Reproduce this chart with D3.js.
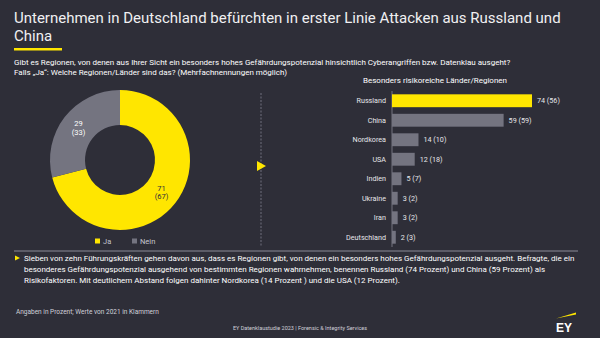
<!DOCTYPE html>
<meta charset="utf-8">
<title>EY Datenklaustudie 2023</title>
<style>
body { margin: 0; background: #2e2e38; }
svg { display: block; font-family: "Liberation Sans Narrow", "Roboto", "Liberation Sans", sans-serif; }
</style>
<svg id="chart"></svg>
<script src="https://cdn.jsdelivr.net/npm/d3@7"></script>
<script>
// donut: Gibt es Regionen mit hohem Gefährdungspotenzial?
const answers = ["Ja", "Nein"];
const answerValues = [71, 29];
const answerValues2021 = [67, 33];

// bars: besonders risikoreiche Länder/Regionen
const countries = ["Russland", "China", "Nordkorea", "USA", "Indien", "Ukraine", "Iran", "Deutschland"];
const values2023 = [74, 59, 14, 12, 5, 3, 3, 2];
const values2021 = [56, 59, 10, 18, 7, 2, 2, 3];

const width = 600, height = 338;
const yellow = "#ffe600", grey = "#747480", bg = "#2e2e38";

const svg = d3.select("#chart").attr("width", width).attr("height", height);
svg.append("rect").attr("width", width).attr("height", height).attr("fill", bg);

// title
const title = svg.append("text").attr("fill", "#f0f0f2").attr("font-size", 15);
title.append("tspan").attr("x", 14).attr("y", 23).text("Unternehmen in Deutschland befürchten in erster Linie Attacken aus Russland und");
title.append("tspan").attr("x", 14).attr("y", 41).text("China");
svg.append("rect").attr("x", 14).attr("y", 48).attr("width", 48).attr("height", 2.5).attr("fill", yellow);

const q = svg.append("text").attr("fill", "#ffffff").attr("font-size", 8);
q.append("tspan").attr("x", 14).attr("y", 65).text("Gibt es Regionen, von denen aus Ihrer Sicht ein besonders hohes Gefährdungspotenzial hinsichtlich Cyberangriffen bzw. Datenklau ausgeht?");
q.append("tspan").attr("x", 14).attr("y", 75).text("Falls \u201eJa\u201c: Welche Regionen/Länder sind das? (Mehrfachnennungen möglich)");

// donut
const color = d3.scaleOrdinal().domain(answers).range([yellow, grey]);
const pie = d3.pie().sort(null).value(d => d.v);
const arc = d3.arc().innerRadius(35).outerRadius(70);
const pieData = pie(answers.map((a, i) => ({a: a, v: answerValues[i], p: answerValues2021[i]})));
const donut = svg.append("g").attr("transform", "translate(120,160)");
donut.selectAll("path").data(pieData).enter().append("path")
  .attr("d", arc).attr("fill", d => color(d.data.a));
const lbl = donut.selectAll("text").data(pieData).enter().append("text")
  .attr("transform", d => "translate(" + arc.centroid(d) + ")")
  .attr("text-anchor", "middle").attr("font-size", 7.5)
  .attr("fill", d => d.data.a == "Ja" ? "#2e2e38" : "#ffffff");
lbl.append("tspan").attr("x", 0).attr("y", -1.5).text(d => d.data.v);
lbl.append("tspan").attr("x", 0).attr("y", 7).text(d => "(" + d.data.p + ")");

// legend
const legend = svg.append("g").attr("transform", "translate(95,241)");
const li = legend.selectAll("g").data(answers).enter().append("g")
  .attr("transform", (d, i) => "translate(" + i * 37 + ",0)");
li.append("rect").attr("x", 0).attr("y", -2.5).attr("width", 5).attr("height", 5).attr("fill", d => color(d));
li.append("text").attr("x", 8).attr("y", 2.8).attr("font-size", 7.5).attr("fill", "#c4c4cd").text(d => d);

// separator
svg.append("line").attr("x1", 261).attr("x2", 261).attr("y1", 93).attr("y2", 247)
  .attr("stroke", "#5a5a66").attr("stroke-width", 1.5).attr("stroke-dasharray", "2,1.5");
svg.append("path").attr("d", "M257,161L266,166L257,171Z").attr("fill", yellow);

// bar chart
svg.append("text").attr("x", 435).attr("y", 83).attr("text-anchor", "middle")
  .attr("font-size", 8).attr("fill", "#ffffff").text("Besonders risikoreiche Länder/Regionen");

const x = d3.scaleLinear().domain([0, 74]).range([392, 532]);
const y = d3.scaleBand().domain(countries).range([91, 247]).paddingInner(0.34).paddingOuter(0.17);

svg.append("line").attr("x1", 392).attr("x2", 392).attr("y1", 91).attr("y2", 247)
  .attr("stroke", "#747480").attr("stroke-width", 1);

const rows = svg.append("g").selectAll("g").data(countries).enter().append("g");
rows.append("rect")
  .attr("x", x(0)).attr("y", d => y(d))
  .attr("width", (d, i) => x(values2023[i]) - x(0)).attr("height", y.bandwidth())
  .attr("fill", (d, i) => i == 0 ? yellow : grey);
rows.append("text")
  .attr("x", 386).attr("y", d => y(d) + y.bandwidth() / 2 + 2.5)
  .attr("text-anchor", "end").attr("font-size", 7.2).attr("fill", "#e6e6ea").text(d => d);
rows.append("text")
  .attr("x", (d, i) => x(values2023[i]) + 5).attr("y", d => y(d) + y.bandwidth() / 2 + 2.5)
  .attr("font-size", 7.2).attr("fill", "#e6e6ea")
  .text((d, i) => values2023[i] + " (" + values2021[i] + ")");

// bottom divider
svg.append("line").attr("x1", 14).attr("x2", 578).attr("y1", 251).attr("y2", 251)
  .attr("stroke", "#8a8a96").attr("stroke-width", 1);

svg.append("path").attr("d", "M15,255.5L20,258L15,260.5Z").attr("fill", yellow);
const note = svg.append("text").attr("fill", "#ffffff").attr("font-size", 8);
note.append("tspan").attr("x", 24).attr("y", 261).text("Sieben von zehn Führungskräften gehen davon aus, dass es Regionen gibt, von denen ein besonders hohes Gefährdungspotenzial ausgeht. Befragte, die ein");
note.append("tspan").attr("x", 24).attr("y", 272).text("besonderes Gefährdungspotenzial ausgehend von bestimmten Regionen wahrnehmen, benennen Russland (74 Prozent) und China (59 Prozent) als");
note.append("tspan").attr("x", 24).attr("y", 283).text("Risikofaktoren. Mit deutlichem  Abstand folgen dahinter Nordkorea (14 Prozent ) und die USA (12 Prozent).");

svg.append("text").attr("x", 16).attr("y", 314).attr("font-size", 6.5).attr("fill", "#d0d0d8")
  .text("Angaben in Prozent; Werte von 2021 in Klammern");
svg.append("text").attr("x", 300).attr("y", 330).attr("text-anchor", "middle").attr("font-size", 5.5).attr("fill", "#d0d0d8")
  .text("EY Datenklaustudie 2023 | Forensic & Integrity Services");

// EY logo
svg.append("path").attr("d", "M556,318.5L576,312.5L576,314.5Z").attr("fill", yellow);
svg.append("text").attr("x", 556).attr("y", 332).attr("font-size", 12).attr("font-weight", "bold")
  .attr("font-family", "Liberation Sans, sans-serif").attr("fill", "#ffffff").text("EY");
</script>
